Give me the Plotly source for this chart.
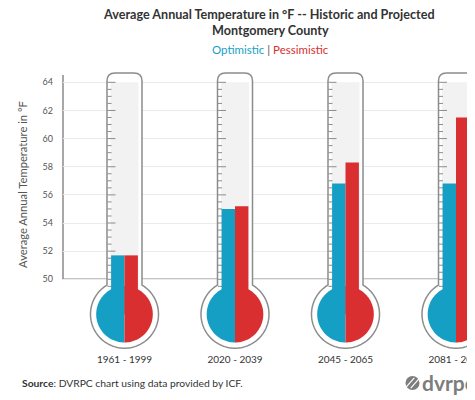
import math
import plotly.graph_objects as go

# ---------------- data ----------------
categories = ["1961 - 1999", "2020 - 2039", "2045 - 2065", "2081 - 2099"]
optimistic = [51.7, 55.0, 56.8, 56.8]
pessimistic = [51.7, 55.2, 58.3, 61.5]
y_ticks = [50, 52, 54, 56, 58, 60, 62, 64]
series_names = ["Optimistic", "Pessimistic"]
BLUE = "#169fc5"
RED = "#d92f30"

# ---------------- layout geometry ----------------
OFF = 8                      # default page body margin
W, H = 475 - OFF, 400 - OFF
ML, MR, MT, MB = 63 - OFF, 0, 70 - OFF, 48
PW, PH = W - ML - MR, H - MT - MB
PPX = 110.5     # pixels per category step
PPY = 14.07     # pixels per degree
X0PX = 124.5    # window pixel x of first category centre
Y50PX = 279.3   # window pixel y of the 50 degree line
xr = [(ML + OFF - X0PX) / PPX, (W + OFF - MR - X0PX) / PPX]
yr = [50 - (H + OFF - MB - Y50PX) / PPY, 50 + (Y50PX - MT - OFF) / PPY]


def px_paper_x(px):
    return (px - OFF - ML) / PW


def px_paper_y(py):
    return (H - MB - (py - OFF)) / PH


# thermometer geometry (pixels, relative to (category, 50), y up)
HW = 17.5
TOP = Y50PX - 73
CORNER = 8
CY = -(314.2 - Y50PX)
RO = 34
RI = 28.3
IHW = 14
ITOP = (64 - 50) * PPY
BAR_HALF = 13.4
base_val = 50 + CY / PPY
bw = BAR_HALF / PPX


def fmt(x, y):
    return f"{x:.2f},{y:.2f}"


def outline_path():
    jy = CY + math.sqrt(RO ** 2 - HW ** 2)
    a0 = math.degrees(math.atan2(jy - CY, HW))
    p = [f"M{fmt(-HW, jy)}", f"L{fmt(-HW, TOP - CORNER)}",
         f"Q{fmt(-HW, TOP)} {fmt(-HW + CORNER, TOP)}",
         f"L{fmt(HW - CORNER, TOP)}",
         f"Q{fmt(HW, TOP)} {fmt(HW, TOP - CORNER)}",
         f"L{fmt(HW, jy)}"]
    a1 = a0 - (360 - 2 * (90 - a0))
    n = 120
    for k in range(1, n + 1):
        a = math.radians(a0 + (a1 - a0) * k / n)
        p.append(f"L{fmt(RO * math.cos(a), CY + RO * math.sin(a))}")
    p.append("Z")
    return " ".join(p)


def half_circle(start, end):
    p = [f"M0,{CY:.2f}"]
    n = 60
    for k in range(n + 1):
        a = math.radians(start + (end - start) * k / n)
        p.append(f"L{fmt(RI * math.cos(a), CY + RI * math.sin(a))}")
    p.append("Z")
    return " ".join(p)


shapes = []
# axis lines
shapes.append(dict(type="line", xref="paper", yref="y", x0=0, x1=1, y0=50, y1=50,
                   line=dict(color="#8a8a8a", width=1.5), layer="between"))
shapes.append(dict(type="line", xref="paper", yref="y", x0=0, x1=0, y0=50,
                   y1=50 + (Y50PX - 75) / PPY,
                   line=dict(color="#8a8a8a", width=1.5), layer="between"))

OUT = outline_path()
LEFT = half_circle(90, 270)
RIGHT = half_circle(-90, 90)
for i in range(len(categories)):
    common = dict(xref="x", yref="y", xsizemode="pixel", ysizemode="pixel",
                  xanchor=i, yanchor=50, layer="between")
    shapes.append(dict(type="path", path=OUT, fillcolor="white",
                       line=dict(color="#8c8c8c", width=1.5), **common))
    shapes.append(dict(type="path",
                       path=f"M{fmt(-IHW, CY)} L{fmt(-IHW, ITOP)} L{fmt(IHW, ITOP)} L{fmt(IHW, CY)} Z",
                       fillcolor="#f2f2f2", line=dict(width=0), **common))
    # scale ticks every half degree
    for k in range(0, 30):
        v = 64 - 0.5 * k
        ln = 8 if k % 4 == 0 else 4
        yy = (v - 50) * PPY
        shapes.append(dict(type="path",
                           path=f"M{fmt(-HW + 0.5, yy)} L{fmt(-HW + 0.5 + ln, yy)}",
                           line=dict(color="#8c8c8c", width=1), **common))
    shapes.append(dict(type="path", path=LEFT, fillcolor=BLUE, line=dict(width=0), **common))
    shapes.append(dict(type="path", path=RIGHT, fillcolor=RED, line=dict(width=0), **common))

# logo icon
shapes.append(dict(type="circle", xref="paper", yref="paper",
                   x0=px_paper_x(405.5), x1=px_paper_x(419.5),
                   y0=px_paper_y(390), y1=px_paper_y(376),
                   fillcolor="#7d7d7d", line=dict(width=0), layer="above"))
for dx in (-2.2, 2.2):
    shapes.append(dict(type="line", xref="paper", yref="paper",
                       x0=px_paper_x(408.5 + dx), x1=px_paper_x(416.5 + dx),
                       y0=px_paper_y(387.5 + dx * 0.3), y1=px_paper_y(378.5 + dx * 0.3),
                       line=dict(color="white", width=1.2), layer="above"))

xs = list(range(len(categories)))
fig = go.Figure()
fig.add_trace(go.Bar(x=xs, y=[v - base_val for v in optimistic], base=base_val,
                     width=bw, offset=-bw, marker=dict(color=BLUE, line=dict(width=0)),
                     name=series_names[0], hoverinfo="skip"))
fig.add_trace(go.Bar(x=xs, y=[v - base_val for v in pessimistic], base=base_val,
                     width=bw, offset=0, marker=dict(color=RED, line=dict(width=0)),
                     name=series_names[1], hoverinfo="skip"))

FONT = "Lato"
annotations = [
    dict(text="<b>Average Annual Temperature in °F -- Historic and Projected</b>",
         x=px_paper_x(269), y=px_paper_y(14.2), font=dict(size=12.6, color="#333333")),
    dict(text="<b>Montgomery County</b>",
         x=px_paper_x(270), y=px_paper_y(30), font=dict(size=12.6, color="#333333")),
    dict(text=f"<span style='color:{BLUE}'>{series_names[0]}</span>"
              f"<span style='color:#555555'> | </span>"
              f"<span style='color:{RED}'>{series_names[1]}</span>",
         x=px_paper_x(270), y=px_paper_y(49.5), font=dict(size=11.5)),
    dict(text="Average Annual Temperature in °F", textangle=-90,
         x=px_paper_x(22), y=px_paper_y(185), font=dict(size=11.2, color="#555555")),
    dict(text="<b>Source</b>: DVRPC chart using data provided by ICF.",
         x=px_paper_x(20), y=px_paper_y(383), xanchor="left",
         font=dict(size=10.3, color="#333333")),
    dict(text="<b>dvrpc</b>", x=px_paper_x(420), y=px_paper_y(382), xanchor="left",
         font=dict(size=21, color="#7d7d7d")),
]
for a in annotations:
    a.setdefault("xanchor", "center")
    a.update(xref="paper", yref="paper", yanchor="middle", showarrow=False)

fig.update_layout(
    width=W, height=H,
    margin=dict(l=ML, r=MR, t=MT, b=MB, autoexpand=False),
    paper_bgcolor="white", plot_bgcolor="white",
    barmode="overlay", showlegend=False,
    font=dict(family=FONT, color="#444444"),
    shapes=shapes, annotations=annotations,
    xaxis=dict(range=xr, tickvals=xs, ticktext=categories, showgrid=False,
               zeroline=False, showline=False, ticks="", automargin=False,
               ticklabeloverflow="allow", tickfont=dict(size=10, color="#333333"),
               fixedrange=True),
    yaxis=dict(range=yr, tickvals=y_ticks, showgrid=True, gridcolor="#ebebeb",
               gridwidth=1, zeroline=False, showline=False, ticks="",
               ticklabelstandoff=9, automargin=False,
               tickfont=dict(size=9, color="#555555"), fixedrange=True),
)

fig.write_html("out.html")
